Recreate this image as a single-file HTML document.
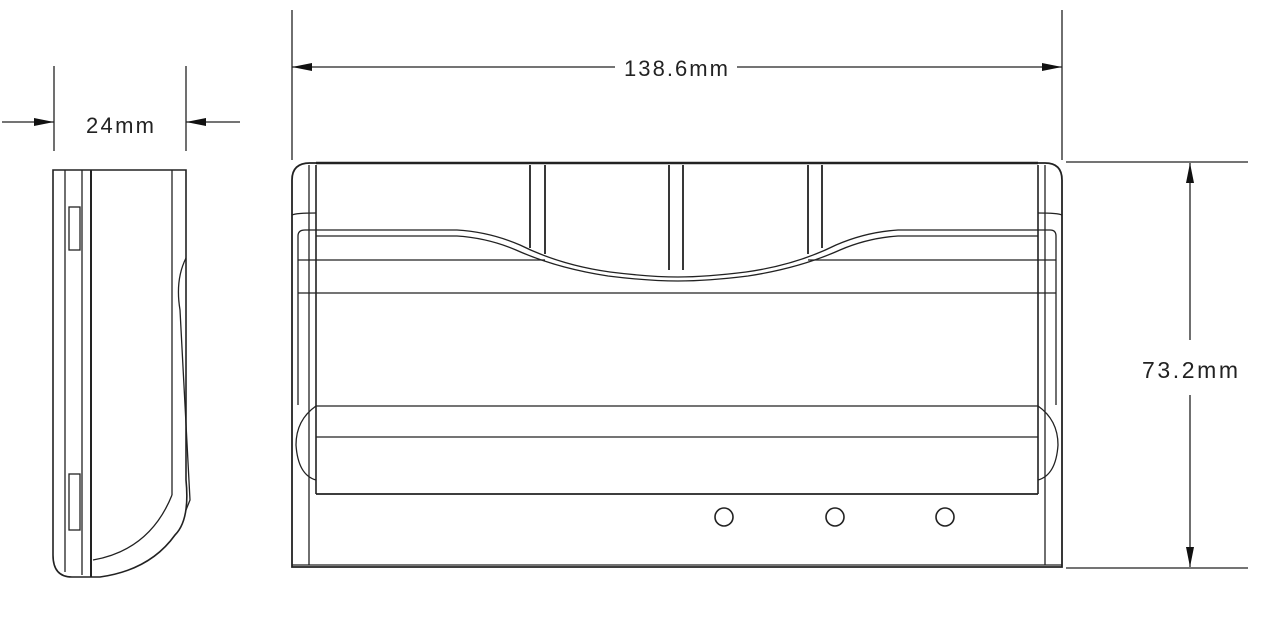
<!DOCTYPE html>
<html><head><meta charset="utf-8"><style>
html,body{margin:0;padding:0;background:#fff;}
svg{display:block}
text{font-family:"Liberation Sans",sans-serif;fill:#222}
</style></head><body>
<svg width="1264" height="621" viewBox="0 0 1264 621" xmlns="http://www.w3.org/2000/svg">
<defs>
<marker id="a" viewBox="0 0 20 8" refX="20" refY="4" markerWidth="20" markerHeight="8" markerUnits="userSpaceOnUse" orient="auto"><path d="M0,0 L20,4 L0,8 Z" fill="#111"/></marker>
</defs>
<g stroke="#222" stroke-width="1.3" fill="none">
<line x1="54" y1="66" x2="54" y2="151"/>
<line x1="186" y1="66" x2="186" y2="151"/>
<line x1="2" y1="122" x2="54" y2="122" marker-end="url(#a)"/>
<line x1="240" y1="122" x2="186" y2="122" marker-end="url(#a)"/>
<path d="M53,170 H186 V480 Q190,520 175,535 Q150,570 100,577 H72 Q53,577 53,555 Z" stroke-width="1.6"/>
<line x1="65" y1="170" x2="65" y2="572"/>
<line x1="82" y1="170" x2="82" y2="575"/>
<line x1="91" y1="170" x2="91" y2="577" stroke-width="2"/>
<line x1="172" y1="170" x2="172" y2="495"/>
<path d="M93,560 Q150,550 172,495"/>
<path d="M186,258 Q175,280 180,310 L190,500 L186,510"/>
<rect x="69" y="207" width="11" height="43"/>
<rect x="69" y="474" width="11" height="56"/>
<line x1="292" y1="10" x2="292" y2="160"/>
<line x1="1062" y1="10" x2="1062" y2="160"/>
<line x1="615" y1="67" x2="292" y2="67" marker-end="url(#a)"/>
<line x1="737" y1="67" x2="1062" y2="67" marker-end="url(#a)"/>
<line x1="1066" y1="162" x2="1248" y2="162"/>
<line x1="1066" y1="568" x2="1248" y2="568"/>
<line x1="1190" y1="340" x2="1190" y2="163" marker-end="url(#a)"/>
<line x1="1190" y1="395" x2="1190" y2="567" marker-end="url(#a)"/>
<path d="M292,567 V180 Q292,163 310,163 H1045 Q1062,163 1062,180 V567 Z" stroke-width="1.8"/>
<line x1="292" y1="565" x2="1062" y2="565"/>
<line x1="316" y1="163" x2="1038" y2="163" stroke-width="2.4"/>
<line x1="316" y1="165" x2="316" y2="494" stroke-width="1.6"/>
<line x1="1038" y1="165" x2="1038" y2="494" stroke-width="1.6"/>
<line x1="316" y1="494" x2="1038" y2="494" stroke-width="1.8"/>
<line x1="309" y1="165" x2="309" y2="565"/>
<line x1="1045" y1="165" x2="1045" y2="565"/>
<path d="M292,215 Q296,213 316,213"/><path d="M1062,215 Q1058,213 1038,213"/>
<path d="M298,236 Q298,230 305,230 H457 Q490,232 520,245 Q560,265 610,272 Q650,277 678,277 Q706,277 746,272 Q796,265 836,245 Q866,232 898,230 H1050 Q1056,230 1056,236"/>
<path d="M298,236 L298,405 M1056,236 L1056,405"/>
<path d="M316,236 H457 Q488,238 516,250 Q556,268 608,276 Q648,281 678,281 Q708,281 748,276 Q800,268 840,250 Q868,238 898,236 H1038"/>
<line x1="298" y1="260" x2="545" y2="260"/><line x1="808" y1="260" x2="1056" y2="260"/>
<line x1="298" y1="293" x2="1056" y2="293"/>
<line x1="316" y1="406" x2="1038" y2="406"/>
<line x1="316" y1="437" x2="1038" y2="437"/>
<path d="M316,406 Q296,420 296,445 Q298,475 316,480"/>
<path d="M1038,406 Q1058,420 1058,445 Q1056,475 1038,480"/>
<line x1="530" y1="165" x2="530" y2="248" stroke-width="1.8"/>
<line x1="545" y1="165" x2="545" y2="254" stroke-width="1.8"/>
<line x1="669" y1="165" x2="669" y2="270" stroke-width="1.8"/>
<line x1="683" y1="165" x2="683" y2="270" stroke-width="1.8"/>
<line x1="808" y1="165" x2="808" y2="254" stroke-width="1.8"/>
<line x1="822" y1="165" x2="822" y2="248" stroke-width="1.8"/>
<circle cx="724" cy="517" r="9" stroke-width="1.6"/>
<circle cx="835" cy="517" r="9" stroke-width="1.6"/>
<circle cx="945" cy="517" r="9" stroke-width="1.6"/>
</g>
<text x="120" y="133" font-size="22" text-anchor="middle" textLength="68">24mm</text>
<text x="676" y="76" font-size="22" text-anchor="middle" textLength="104">138.6mm</text>
<rect x="1140" y="348" width="100" height="40" fill="#fff"/>
<text x="1190" y="378" font-size="23" text-anchor="middle" textLength="96">73.2mm</text>
</svg>
</body></html>
